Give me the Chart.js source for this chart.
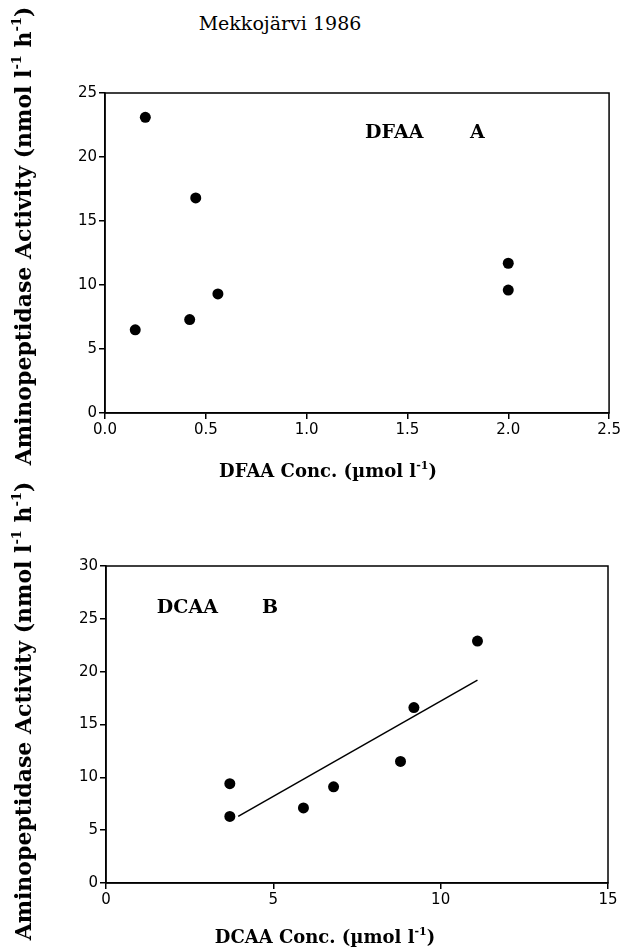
<!DOCTYPE html>
<html>
<head>
<meta charset="utf-8">
<script src="https://cdn.jsdelivr.net/npm/chart.js@4/dist/chart.umd.min.js"></script>
<style>
body { margin: 0; background: #fff; width: 623px; height: 950px; position: relative; overflow: hidden; }
#title { position: absolute; left: 0; top: 12px; width: 560px; text-align: center; font: 19px "DejaVu Serif", serif; color: #000; }
canvas { position: absolute; left: 0; }
</style>
</head>
<body>
<div id="title">Mekkojärvi 1986</div>
<canvas id="chartA" width="623" height="500" style="top:0"></canvas>
<canvas id="chartB" width="623" height="480" style="top:470px"></canvas>
<script>
// Panel A: DFAA
var dfaaX = [0.15, 0.20, 0.42, 0.45, 0.56, 2.0, 2.0];
var dfaaY = [6.5, 23.1, 7.3, 16.8, 9.3, 11.7, 9.6];
var ticksAx = [0, 0.5, 1.0, 1.5, 2.0, 2.5];
var ticksAy = [0, 5, 10, 15, 20, 25];
// Panel B: DCAA
var dcaaX = [3.7, 3.7, 5.9, 6.8, 8.8, 9.2, 11.1];
var dcaaY = [9.4, 6.3, 7.1, 9.1, 11.5, 16.6, 22.9];
var fitX = [3.95, 11.1];
var fitY = [6.3, 19.2];
var ticksBx = [0, 5, 10, 15];
var ticksBy = [0, 5, 10, 15, 20, 25, 30];

var yTitle = [["Aminopeptidase Activity (nmol l"], ["-1", 1], [" h"], ["-1", 1], [")"]];

function pts(xs, ys) {
    var out = [];
    for (var i = 0; i < xs.length; i++) out.push({ x: xs[i], y: ys[i] });
    return out;
}

// draws text with superscript parts, centred on (x, y)
function drawRich(ctx, parts, x, y, size) {
    var big = "bold " + size + "px 'DejaVu Serif'";
    var small = "bold " + Math.round(size * 0.6) + "px 'DejaVu Serif'";
    var w = 0;
    parts.forEach(p => { ctx.font = p[1] ? small : big; w += ctx.measureText(p[0]).width; });
    var cx = x - w / 2;
    ctx.textBaseline = "middle";
    ctx.textAlign = "left";
    parts.forEach(p => {
        ctx.font = p[1] ? small : big;
        ctx.fillText(p[0], cx, p[1] ? y - size * 0.35 : y);
        cx += ctx.measureText(p[0]).width;
    });
}

var framePlugin = {
    id: "frame",
    afterDraw(chart, args, o) {
        var ctx = chart.ctx, a = chart.chartArea;
        ctx.save();
        ctx.strokeStyle = "#000";
        ctx.lineWidth = 1.5;
        ctx.strokeRect(a.left, a.top, a.right - a.left, a.bottom - a.top);
        ctx.fillStyle = "#000";
        // panel labels, placed in data units
        ctx.font = "bold 19px 'DejaVu Serif'";
        ctx.textBaseline = "middle";
        ctx.textAlign = "left";
        o.labels.forEach(l => {
            ctx.fillText(l[0], chart.scales.x.getPixelForValue(l[1]), chart.scales.y.getPixelForValue(l[2]));
        });
        // axis titles
        drawRich(ctx, o.xTitle, o.xPos[0], o.xPos[1], 18);
        ctx.translate(o.yPos[0], o.yPos[1]);
        ctx.rotate(-Math.PI / 2);
        drawRich(ctx, yTitle, 0, 0, 22);
        ctx.restore();
    }
};

function makeChart(id, datasets, xt, yt, xFmt, pad, yW, xH, opts) {
    return new Chart(document.getElementById(id), {
        type: "scatter",
        data: { datasets: datasets },
        options: {
            responsive: false,
            animation: false,
            devicePixelRatio: 1,
            layout: { padding: pad },
            plugins: { legend: { display: false }, tooltip: { enabled: false }, frame: opts },
            scales: {
                x: {
                    min: xt[0], max: xt[xt.length - 1],
                    afterBuildTicks: s => { s.ticks = xt.map(v => ({ value: v })); },
                    afterFit: s => { s.height = xH; },
                    grid: { drawOnChartArea: false, drawTicks: true, tickLength: 6, color: "#000", lineWidth: 1.5 },
                    border: { color: "#000", width: 1.5 },
                    ticks: { color: "#000", font: { family: "DejaVu Sans", size: 15 }, padding: 2, maxRotation: 0, callback: xFmt }
                },
                y: {
                    min: yt[0], max: yt[yt.length - 1],
                    afterBuildTicks: s => { s.ticks = yt.map(v => ({ value: v })); },
                    afterFit: s => { s.width = yW; },
                    grid: { drawOnChartArea: false, drawTicks: true, tickLength: 6, color: "#000", lineWidth: 1.5 },
                    border: { color: "#000", width: 1.5 },
                    ticks: { color: "#000", font: { family: "DejaVu Sans", size: 15 }, padding: 2 }
                }
            }
        },
        plugins: [framePlugin]
    });
}

makeChart("chartA",
    [{ data: pts(dfaaX, dfaaY), pointRadius: 5.5, pointBackgroundColor: "#000", pointBorderWidth: 0 }],
    ticksAx, ticksAy, v => v.toFixed(1),
    { top: 93, right: 13, left: 0, bottom: 0 }, 105, 87,
    {
        labels: [["DFAA", 1.29, 21.9], ["A", 1.81, 21.9]],
        xTitle: [["DFAA Conc. (\u00b5mol l"], ["-1", 1], [")"]],
        xPos: [328, 472],
        yPos: [25, 236]
    });

makeChart("chartB",
    [
        { data: pts(dcaaX, dcaaY), pointRadius: 5.5, pointBackgroundColor: "#000", pointBorderWidth: 0 },
        { data: pts(fitX, fitY), showLine: true, pointRadius: 0, borderColor: "#000", borderWidth: 1.5 }
    ],
    ticksBx, ticksBy, v => String(v),
    { top: 96, right: 15, left: 0, bottom: 0 }, 106, 67,
    {
        labels: [["DCAA", 1.52, 26.0], ["B", 4.66, 26.0]],
        xTitle: [["DCAA Conc. (\u00b5mol l"], ["-1", 1], [")"]],
        xPos: [325, 468],
        yPos: [25, 241]
    });
</script>
</body>
</html>
